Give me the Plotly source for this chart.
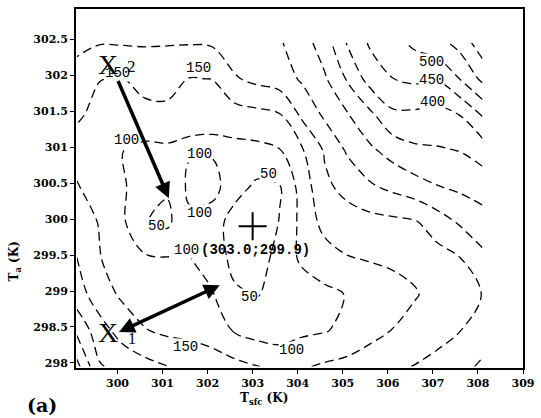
import plotly.graph_objects as go

# Grid: surface temperature (x) and air temperature (y), kelvin
t_sfc = [299.1, 299.6, 300.1, 300.6, 301.1, 301.6, 302.1, 302.6, 303.1, 303.6,
         304.1, 304.6, 305.1, 305.6, 306.1, 306.6, 307.1, 307.6, 308.1]
t_air = [297.95, 298.45, 298.95, 299.45, 299.95, 300.45, 300.95, 301.45, 301.95, 302.45]

# Cost function, one row per air temperature
j_297_95 = [365, 255, 232, 217, 201, 190, 177, 165, 153, 128, 145, 157, 165, 175, 190, 202, 215, 235, 258]
j_298_45 = [290, 220, 182, 153, 140, 135, 125, 96, 80, 82, 90, 97, 112, 135, 151, 165, 183, 199, 225]
j_298_95 = [222, 175, 142, 125, 118, 112, 104, 58, 48, 63, 76, 89, 102, 120, 135, 147, 163, 182, 201]
j_299_45 = [201, 152, 130, 108, 103, 102, 80, 35, 22, 72, 108, 127, 147, 153, 157, 160, 180, 198, 237]
j_299_95 = [170, 148, 110, 52, 40, 90, 75, 28, 18, 52, 115, 166, 178, 182, 187, 194, 225, 255, 280]
j_300_45 = [153, 130, 108, 70, 55, 110, 118, 70, 40, 47, 122, 190, 215, 243, 262, 280, 298, 310, 321]
j_300_95 = [135, 118, 101, 88, 90, 96, 95, 85, 87, 97, 145, 205, 256, 290, 318, 340, 345, 351, 372]
j_301_45 = [155, 140, 120, 134, 138, 106, 106, 128, 136, 147, 210, 259, 296, 338, 390, 390, 383, 401, 454]
j_301_95 = [181, 151, 148, 168, 168, 148, 151, 195, 213, 225, 257, 294, 355, 420, 449, 460, 455, 501, 562]
j_302_45 = [212, 203, 204, 204, 203, 203, 206, 228, 238, 245, 278, 325, 404, 456, 484, 510, 533, 568, 630]

cost = [j_297_95, j_298_45, j_298_95, j_299_45, j_299_95,
        j_300_45, j_300_95, j_301_45, j_301_95, j_302_45]

# Minimum of the cost function
min_sfc = [303.0]
min_air = [299.9]
min_text = "(303.0;299.9)"

# Contour labels: text, x, y
label_text = ["150", "150", "100", "100", "100", "50", "50", "100", "50", "150", "100", "500", "450", "400"]
label_x = [300.0, 301.79, 300.2, 301.81, 301.81, 300.87, 303.36, 301.53, 302.93, 301.51, 303.86, 306.97, 306.97, 306.99]
label_y = [302.03, 302.1, 301.1, 300.91, 300.08, 299.91, 300.62, 299.57, 298.91, 298.22, 298.18, 302.18, 301.93, 301.63]

# Iteration arrows (tail -> head)
x2_arrow = dict(x0=300.0, y0=301.94, x1=301.14, y1=300.29)
x1_arrow = dict(x0=300.0, y0=298.42, x1=302.27, y1=299.08)

MONO = "Liberation Mono"
SERIF = "Liberation Serif"
SLAB = "DejaVu Serif"

fig = go.Figure()

fig.add_trace(go.Contour(
    x=t_sfc, y=t_air, z=cost,
    contours=dict(coloring="none", start=50, end=650, size=50, showlabels=False),
    line=dict(color="black", width=1.3, dash="9px,5px", smoothing=1.0),
    showscale=False, hoverinfo="skip",
))

fig.add_trace(go.Scatter(
    x=min_sfc, y=min_air, mode="markers",
    marker=dict(symbol="cross-thin", size=20, line=dict(width=2, color="black")),
    hoverinfo="skip", showlegend=False,
))

annotations = []
for t, lx, ly in zip(label_text, label_x, label_y):
    annotations.append(dict(
        x=lx, y=ly, xref="x", yref="y", text=t, showarrow=False,
        xanchor="center", yanchor="middle",
        font=dict(family=MONO, size=14, color="black"),
        bgcolor="white", borderpad=0,
    ))

annotations.append(dict(
    x=303.07, y=299.57, xref="x", yref="y", text=min_text, showarrow=False,
    xanchor="center", yanchor="middle",
    font=dict(family=MONO, size=14, color="black", weight="bold"),
))

for arr, side in ((x2_arrow, "end"), (x1_arrow, "end+start")):
    annotations.append(dict(
        x=arr["x1"], y=arr["y1"], ax=arr["x0"], ay=arr["y0"],
        xref="x", yref="y", axref="x", ayref="y",
        text="", showarrow=True, arrowhead=2, arrowsize=0.9,
        arrowwidth=3.5, arrowcolor="black", arrowside=side,
        standoff=0, startstandoff=0,
    ))

# Point markers X2 and X1
annotations += [
    dict(x=299.78, y=302.15, xref="x", yref="y", text="X", showarrow=False,
         xanchor="center", yanchor="middle",
         font=dict(family=SERIF, size=28, color="black")),
    dict(x=300.31, y=302.12, xref="x", yref="y", text="2", showarrow=False,
         xanchor="center", yanchor="middle",
         font=dict(family=SERIF, size=17, color="black")),
    dict(x=299.78, y=298.42, xref="x", yref="y", text="X", showarrow=False,
         xanchor="center", yanchor="middle",
         font=dict(family=SERIF, size=28, color="black")),
    dict(x=300.33, y=298.34, xref="x", yref="y", text="1", showarrow=False,
         xanchor="center", yanchor="middle",
         font=dict(family=SERIF, size=16, color="black")),
]

# Axis titles and panel tag
annotations += [
    dict(x=0.4216, y=-0.085, xref="paper", yref="paper",
         xanchor="center", yanchor="middle",
         text="T<sub>sfc</sub> (K)", showarrow=False,
         font=dict(family=SLAB, size=12, color="black", weight="bold")),
    dict(x=-0.137, y=0.296, xref="paper", yref="paper", textangle=-90,
         xanchor="center", yanchor="middle",
         text="T<sub>a</sub> (K)", showarrow=False,
         font=dict(family=SLAB, size=12, color="black", weight="bold")),
    dict(x=-0.075, y=-0.1025, xref="paper", yref="paper",
         xanchor="center", yanchor="middle",
         text="(a)", showarrow=False,
         font=dict(family=SLAB, size=19, color="black", weight="bold")),
]

axis_common = dict(
    showline=True, linecolor="black", linewidth=2, mirror=True,
    ticks="outside", ticklen=4, tickwidth=1.2, tickcolor="black",
    showgrid=False, zeroline=False,
    tickfont=dict(family=SLAB, size=11, color="black", weight="bold"),
)

fig.update_layout(
    width=541, height=418,
    margin=dict(l=76, r=12, t=7, b=50),
    paper_bgcolor="white", plot_bgcolor="white",
    showlegend=False,
    xaxis=dict(range=[299.08, 309.0], tickvals=[300, 301, 302, 303, 304, 305, 306, 307, 308, 309], **axis_common),
    yaxis=dict(range=[297.93, 302.92], tick0=298, dtick=0.5, **axis_common),
    annotations=annotations,
)

fig.write_html("out.html")
